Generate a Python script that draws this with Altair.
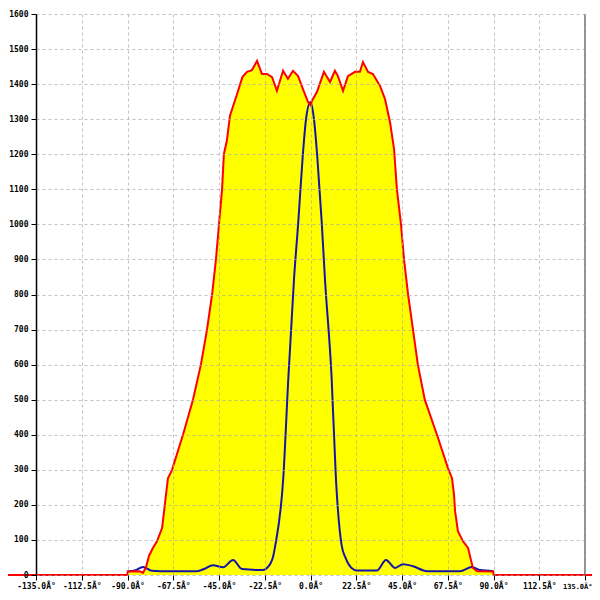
import altair as alt
import pandas as pd

# Red (yellow filled) series: angle (deg) and value
red_angle = [-150, -90.1, -89.9, -84.0, -82.4, -80.9, -79.4, -77.5, -75.5, -73.0, -72.0, -71.1,
             -70.1, -68.1, -62.7, -57.8, -53.9, -50.9, -48.4, -46.5, -45.0, -43.5, -42.6, -41.1,
             -39.6, -36.1, -33.5, -31.2, -28.8, -26.3, -23.9, -21.4, -18.9, -16.5, -13.5, -11.1,
             -8.6, -6.1, -3.7, -1.2, 0.0, 0.7, 3.2, 6.6, 9.6, 12.0, 13.5, 16.0, 18.4, 21.9, 24.3,
             25.8, 28.3, 30.7, 34.2, 36.6, 39.1, 41.1, 42.5, 44.5, 46.0, 48.0, 50.4, 52.8, 56.2,
             62.2, 67.6, 69.6, 70.6, 71.1, 72.5, 75.0, 77.5, 78.9, 79.9, 81.9, 89.9, 90.1, 150]
red_value = [0, 0, 10, 11, 6, 22, 55, 77, 96, 134, 182, 228,
             276, 300, 400, 500, 600, 700, 800, 900, 1000, 1100, 1200, 1240,
             1310, 1372, 1420, 1435, 1440, 1466, 1429, 1429, 1420, 1381, 1438, 1415,
             1438, 1423, 1386, 1349, 1340, 1352, 1378, 1435, 1406, 1438, 1423, 1381, 1423, 1435, 1435,
             1463, 1435, 1429, 1395, 1358, 1292, 1215, 1100, 1000, 900, 800, 700, 600, 500,
             400, 305, 276, 228, 182, 125, 96, 77, 43, 20, 11, 10, 0, 0]

# Blue series
blue_angle = [-90.0, -86.0, -82.4, -78.0, -74.0, -55.8, -52.0, -48.0, -43.0, -38.1, -33.7,
              -23.4, -21.4, -19.5, -18.5, -17.3, -13.4, -10.9, -8.1, -6.0, -3.8, -2.2, 0.0,
              1.7, 3.3, 5.5, 7.1, 10.4, 12.5, 15.3, 17.3, 20.2, 22.9, 32.7, 37.1, 41.6, 45.5,
              50.4, 57.3, 73.5, 79.4, 83.4, 90.0]
blue_value = [10, 14, 23, 12, 11, 11, 18, 28, 22, 43, 17,
              14, 20, 35, 50, 85, 276, 561, 845, 1008, 1196, 1300, 1349,
              1300, 1196, 1008, 845, 561, 276, 85, 48, 20, 13, 13, 43, 20, 31,
              25, 11, 11, 23, 14, 11]

x_ticks = [-135.0, -112.5, -90.0, -67.5, -45.0, -22.5, 0.0, 22.5, 45.0, 67.5, 90.0, 112.5, 135.0]
y_ticks = [0, 100, 200, 300, 400, 500, 600, 700, 800, 900, 1000, 1100, 1200, 1300, 1400, 1500, 1600]
border_angle = [135.0]

df = pd.concat([
    pd.DataFrame({"angle": red_angle, "value": red_value, "series": "red"}),
    pd.DataFrame({"angle": blue_angle, "value": blue_value, "series": "blue"}),
])

FONT = "DejaVu Sans Mono"
x_scale = alt.Scale(domain=[-135, 135], nice=False, zero=False)
y_scale = alt.Scale(domain=[0, 1600], nice=False)

last = "datum.value >= 135"
x_axis = alt.Axis(
    values=x_ticks,
    labelExpr="(datum.value < 0 ? '-' : '') + format(abs(datum.value), '.1f') + 'Â°'",
    labelAlign=alt.condition(last, alt.value("right"), alt.value("center")),
    labelOffset=alt.condition(last, alt.value(7), alt.value(0)),
    labelFontSize=alt.condition(last, alt.value(7), alt.value(8)),
    title=None, grid=True, gridDash=[3, 3], gridColor="#a8a8a8", gridOpacity=0.7,
    domain=False, ticks=True, tickColor="black", tickSize=5,
    labelFont=FONT, labelFontWeight="bold", labelColor="black",
    labelPadding=2, labelOverlap=False, labelFlush=False, zindex=1,
)
y_axis = alt.Axis(
    values=y_ticks, format="d",
    title=None, grid=True, gridDash=[3, 3], gridColor="#a8a8a8", gridOpacity=0.7,
    domain=True, domainColor="black", domainWidth=1.5, tickColor="black", tickSize=5,
    labelFont=FONT, labelFontSize=8, labelFontWeight="bold", labelColor="black",
    labelPadding=3, labelOverlap=False, labelFlush=False, zindex=1,
)

enc = dict(
    x=alt.X("angle:Q", scale=x_scale, axis=x_axis),
    y=alt.Y("value:Q", scale=y_scale, axis=y_axis),
)

base = alt.Chart(df)
area = base.transform_filter("datum.series == 'red'").mark_area(color="#ffff00").encode(**enc)
blue = base.transform_filter("datum.series == 'blue'").mark_line(
    color="#1414a8", strokeWidth=2, interpolate="monotone").encode(**enc)
red = base.transform_filter("datum.series == 'red'").mark_line(
    color="#ff0000", strokeWidth=2).encode(**enc)
border = alt.Chart(pd.DataFrame({"angle": border_angle})).mark_rule(
    color="#222222", strokeWidth=1).encode(x=alt.X("angle:Q", scale=x_scale, axis=x_axis))

chart = alt.layer(area, blue, red, border).properties(
    width=549, height=561,
    autosize=alt.AutoSizeParams(type="none"),
    padding={"left": 28, "top": 6, "right": 7, "bottom": 17},
    background="white",
).configure_view(strokeWidth=0)

chart.save("out.html", embed_options={"renderer": "svg", "actions": False})
